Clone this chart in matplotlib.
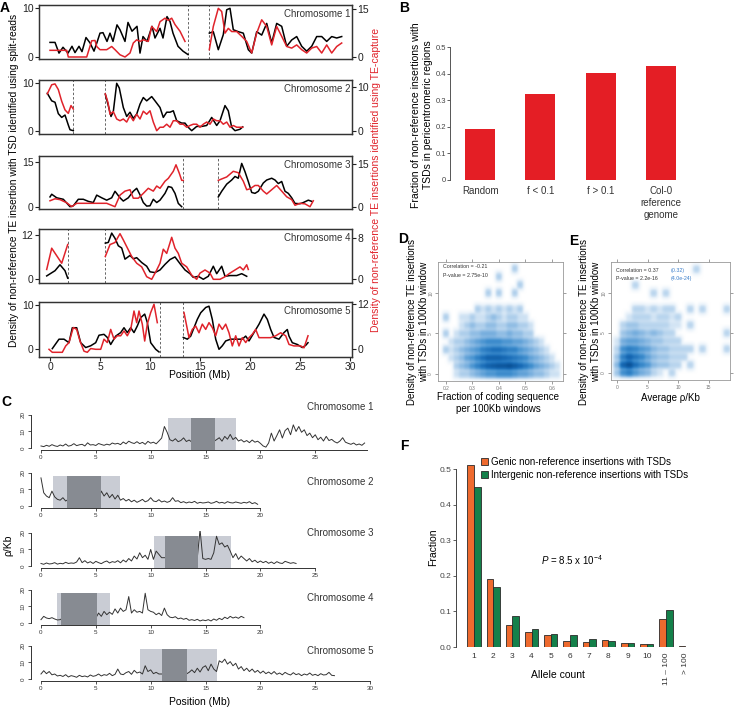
import numpy as np
import matplotlib
matplotlib.use('Agg')
import matplotlib.pyplot as plt
from matplotlib.patches import Rectangle
from matplotlib.colors import LinearSegmentedColormap

plt.rcParams['font.family'] = ['Liberation Sans', 'DejaVu Sans']
plt.rcParams['mathtext.fontset'] = 'custom'
plt.rcParams['mathtext.rm'] = 'Liberation Sans'
plt.rcParams['mathtext.it'] = 'Liberation Sans:italic'

nan = np.nan
RED = '#E0232B'

# ---------------- Panel A data (position Mb, density) ----------------
A1_black_pos = [0.0,0.5,0.9,1.3,1.8,2.2,2.5,2.9,3.2,3.6,4.0,4.4,4.7,5.0,5.3,5.7,6.0,6.3,6.7,7.0,
                7.5,7.8,8.2,8.7,9.0,9.3,9.7,10.2,10.5,11.0,11.3,11.7,12.0,12.3,12.8,13.3,13.8,14.8,
                15.93,16.33,16.83,17.33,17.67,18.0,18.33,18.83,19.33,19.83,20.17,20.67,21.17,21.67,22.17,
                22.67,23.17,23.67,24.17,24.67,25.17,25.67,26.17,26.67,27.17,27.67,28.17,28.67,29.17]
A1_black_val = [3.0,3.0,0.8,2.0,0.8,2.2,0.9,2.2,1.1,4.0,2.9,1.2,3.0,4.9,5.0,3.2,4.9,3.2,6.6,5.6,
                3.2,7.1,5.3,6.3,0.8,4.2,3.2,6.3,3.9,5.9,3.9,8.3,7.3,4.9,2.2,1.2,0.5,nan,
                4.9,5.2,1.5,4.6,9.7,10.0,5.6,5.2,4.9,1.5,0.8,5.2,4.5,6.9,2.9,
                6.9,6.3,2.2,3.5,4.2,2.2,1.2,2.2,4.2,4.2,3.2,4.2,3.9,4.2]
A1_red_pos = [0.0,1.67,1.83,3.67,4.17,4.5,4.67,5.0,5.67,6.17,6.5,7.0,7.5,8.0,8.33,8.67,9.0,9.33,9.83,10.17,
              10.67,11.0,11.5,11.83,12.17,12.5,13.0,13.5,14.7,
              15.93,16.33,16.83,17.17,17.5,17.83,18.17,18.67,19.17,19.67,20.17,20.67,21.17,21.67,22.17,
              22.67,23.17,23.67,24.17,24.67,25.17,25.67,26.17,26.67,27.17,27.67,28.17,28.67,29.17]
A1_red_val = [2.1,2.1,0.0,0.0,5.1,5.2,3.3,2.3,2.3,3.3,2.3,0.7,0.0,1.25,4.4,5.4,4.9,5.4,4.9,9.6,
              8.0,11.1,12.2,11.5,12.2,10.2,8.1,4.9,nan,
              2.3,9.6,15.3,14.3,7.5,9.0,8.0,8.0,6.5,4.9,1.25,7.5,11.7,9.6,3.8,
              9.6,6.5,3.3,2.8,3.8,2.3,1.25,2.8,3.3,1.25,3.8,1.25,3.3,4.4]

A2_black_pos = [-0.27,0.17,0.5,0.83,1.17,1.5,1.83,2.0,2.33,4.0,
                5.53,5.83,6.1,6.33,6.67,6.93,7.33,7.67,8.0,8.33,8.67,9.0,9.33,9.67,10.17,10.5,11.0,11.33,
                11.67,12.0,12.33,12.67,13.17,13.5,13.83,14.17,14.67,15.17,15.67,16.17,16.67,17.0,17.5,
                17.83,18.17,18.5,19.0,19.27]
A2_black_val = [7.9,6.3,6.0,3.6,2.8,3.3,1.2,0.2,0.0,nan,
                7.7,5.3,3.0,4.0,10.0,9.0,4.9,3.0,3.9,2.6,3.5,5.6,7.0,6.3,7.2,6.3,4.9,2.8,
                3.9,3.9,4.2,2.1,1.6,1.6,0.7,0.0,0.9,0.9,1.1,2.8,1.1,2.1,5.3,
                4.2,0.7,0.0,0.3,0.8]
A2_red_pos = [-0.27,0.17,0.5,0.83,1.17,1.5,1.83,2.1,2.33,4.0,
              5.53,5.8,6.0,6.33,6.67,7.0,7.33,7.67,8.0,8.33,8.67,9.0,9.33,9.67,10.0,10.33,10.67,11.0,
              11.33,11.67,12.0,12.33,12.67,13.0,13.33,13.67,14.0,14.33,14.67,15.0,15.33,15.67,16.0,
              16.33,16.67,17.0,17.33,17.67,18.0,18.33,18.67,19.0,19.27]
A2_red_val = [8.5,10.6,10.8,9.5,6.8,4.8,4.0,5.8,5.0,nan,
              8.5,6.5,3.8,4.4,2.7,2.3,2.7,2.0,3.5,2.3,3.8,2.7,4.5,3.8,4.6,2.0,0.0,0.8,
              0.8,1.5,0.8,2.3,2.3,1.5,1.5,0.8,1.2,1.5,1.5,0.8,1.5,2.0,1.5,
              2.7,2.3,2.3,1.5,2.0,0.8,1.2,0.8,0.8,0.8]

A3_black_pos = [0.0,0.17,0.67,1.33,2.0,2.33,2.83,3.33,3.83,4.33,4.67,5.17,5.67,6.17,6.5,7.0,7.33,7.83,
                8.33,8.67,9.0,9.33,9.67,10.0,10.33,10.67,11.0,11.5,11.83,12.17,12.5,12.83,13.17,15.0,
                16.83,17.17,17.67,18.17,18.5,18.83,19.17,19.5,19.83,20.17,20.5,20.83,21.33,21.67,22.17,
                22.5,22.83,23.17,23.5,23.83,24.17,24.5,25.0,25.33,25.83,26.17]
A3_black_val = [3.3,4.2,3.0,2.5,0.0,0.3,2.5,2.5,1.8,1.4,3.9,3.0,2.2,3.0,5.2,3.0,1.9,3.0,
                5.2,6.2,4.0,1.4,0.2,0.3,2.5,1.4,2.2,4.5,6.8,6.5,4.5,1.1,0.0,nan,
                3.3,5.2,7.6,9.0,10.2,9.6,14.6,11.8,8.5,4.8,4.5,5.2,8.0,9.0,9.6,
                9.0,7.8,8.5,5.2,4.5,3.0,1.1,1.0,1.4,2.2,1.8]
A3_red_pos = [0.0,0.5,1.0,1.67,2.17,2.67,3.67,4.67,5.67,6.5,7.0,7.5,8.0,8.33,8.83,9.33,9.83,10.33,
              10.67,11.0,11.5,11.83,12.33,12.6,12.93,13.17,13.33,15.0,
              16.83,17.17,17.67,18.33,18.83,19.33,19.67,20.0,20.5,20.83,21.33,21.67,22.17,22.67,23.17,
              23.67,24.17,24.5,25.0,25.5,26.0,26.33]
A3_red_val = [2.1,2.8,2.5,1.4,0.0,1.2,1.2,1.2,1.2,0.0,4.1,5.5,6.0,3.0,3.0,4.7,6.5,5.5,
              7.3,6.5,9.0,10.0,12.5,14.8,11.8,9.3,9.3,nan,
              9.3,9.8,10.5,12.5,12.0,9.0,6.0,6.3,7.5,7.5,5.5,4.5,6.0,7.5,5.5,
              3.5,2.5,0.5,1.2,1.0,0.0,2.1]

A4_black_pos = [-0.33,0.5,1.0,1.5,1.77,3.5,
                5.53,5.83,6.17,6.5,6.83,7.17,7.5,8.0,8.33,8.67,9.17,9.67,10.0,10.5,11.0,11.5,12.0,12.5,
                13.0,13.5,14.0,14.33,14.83,15.33,15.83,16.33,16.67,17.17,17.5,18.0,18.67,19.17,19.67]
A4_black_val = [0.9,2.3,3.9,2.3,0.3,nan,
                9.7,9.9,12.4,11.0,9.0,8.4,5.4,6.4,5.5,5.8,4.5,3.5,2.0,1.8,2.5,4.0,5.3,6.0,
                4.2,2.5,1.5,0.5,0.8,0.0,0.8,3.5,1.5,3.5,0.8,1.0,1.0,1.5,0.8]
A4_red_pos = [-0.33,0.17,1.17,1.77,3.5,
              5.53,6.0,6.5,7.0,7.33,7.67,8.17,8.67,9.17,9.67,10.17,10.67,11.0,11.33,11.67,12.17,12.5,
              12.83,13.17,13.67,14.17,14.67,15.0,15.5,16.0,16.33,17.0,17.5,18.0,18.5,19.0,19.33,19.67,19.83]
A4_red_val = [1.9,6.0,3.1,6.7,nan,
              4.4,6.7,7.1,8.8,7.6,6.3,4.4,3.1,2.4,0.5,0.0,1.8,3.1,5.8,5.0,8.1,6.0,
              5.0,3.1,2.4,0.8,0.0,1.2,1.8,1.2,0.0,0.0,0.5,1.2,1.8,2.4,1.8,2.8,1.9]

A5_black_pos = [0.23,0.9,1.4,1.9,2.23,2.67,3.07,3.57,4.07,4.57,4.9,5.4,5.73,6.07,6.57,7.07,7.4,7.73,
                8.07,8.4,8.73,9.07,9.47,9.73,10.07,10.57,10.9,12.0,
                13.33,13.73,14.07,14.4,14.73,15.07,15.57,15.9,16.23,16.57,16.9,17.23,17.57,18.07,18.73,
                19.23,19.57,19.9,20.4,20.9,21.4,21.73,22.07,22.4,22.9,23.4,23.73,23.9,24.23,24.73,25.23,
                25.57,25.8]
A5_black_val = [0.15,2.3,2.3,1.5,4.9,4.9,1.5,0.4,0.8,1.5,3.2,3.4,2.7,1.1,3.0,3.8,4.9,3.8,
                4.9,3.8,5.3,7.2,8.0,6.1,1.5,0.0,-0.6,nan,
                2.7,2.3,3.0,4.9,6.8,8.3,9.5,9.8,6.8,2.3,0.0,0.8,1.9,2.3,2.3,
                2.3,3.0,1.9,3.8,5.7,8.0,6.8,4.5,2.7,2.3,3.8,4.5,3.0,1.5,1.1,0.4,
                0.9,1.5]
A5_red_pos = [-0.1,0.23,0.57,1.23,1.57,1.9,2.33,2.67,3.0,3.4,3.73,4.07,4.57,5.07,5.4,5.73,6.07,6.4,
              6.73,7.07,7.4,7.73,8.07,8.4,8.67,8.9,9.23,9.47,9.73,10.07,10.4,10.73,12.0,
              13.4,13.67,13.9,14.23,14.57,14.9,15.23,15.57,15.9,16.23,16.57,16.9,17.23,17.57,17.9,
              18.23,18.57,18.9,19.23,19.57,19.9,20.23,20.57,20.9,21.4,22.07,22.57,23.07,23.57,23.9,
              24.4,25.07,25.4,25.8]
A5_red_val = [0.0,-0.8,-0.8,-0.8,0.9,1.8,5.8,5.3,2.2,-0.5,-0.8,0.2,0.0,0.0,2.7,1.8,5.3,2.7,
              3.6,3.6,4.9,3.6,5.3,10.2,7.1,10.2,6.7,2.2,6.7,9.8,12.0,7.1,nan,
              9.8,6.2,3.1,5.3,6.2,4.4,6.7,5.3,7.1,5.8,3.6,6.7,5.3,6.7,4.4,
              0.9,3.6,0.9,3.1,1.8,3.1,4.0,5.3,3.1,3.1,3.1,3.6,4.4,3.6,1.3,
              0.9,0.9,0.4,3.6]

A_centromere = [(13.77, 15.93), (2.27, 5.53), (13.33, 16.83), (1.77, 5.53), (11.0, 13.33)]
A_left_top = [10, 10, 15, 12, 10]
A_right_top = [15, 10, 15, 8, 12]
A_titles = ['Chromosome 1', 'Chromosome 2', 'Chromosome 3', 'Chromosome 4', 'Chromosome 5']

# ---------------- Panel C data (rho/Kb every 0.25 Mb) ----------------
C_step = 0.25
C1_rho = [1.2,0.8,1.6,1.0,2.0,1.3,0.9,1.8,1.2,2.4,1.1,1.5,
          2.6,1.4,1.9,2.2,1.2,3.1,1.8,2.0,1.5,2.7,2.1,1.6,
          2.3,1.8,3.0,2.4,2.8,2.0,3.6,2.5,4.1,3.2,2.7,3.8,
          2.6,3.4,2.2,4.0,2.9,3.5,2.5,4.2,6.0,13.0,9.5,5.0,
          4.2,5.6,3.8,4.5,6.1,3.9,4.8,3.6,4.0,4.0,4.0,4.0,
          4.0,4.0,4.0,4.0,5.0,6.2,4.1,7.0,5.3,8.2,5.1,6.4,
          4.2,5.0,3.6,4.5,3.2,4.8,3.5,4.1,2.8,1.2,0.5,3.0,
          9.0,4.2,7.5,11.0,6.0,10.5,12.0,8.0,14.0,10.0,13.0,9.5,
          11.0,7.5,9.0,6.2,8.0,5.0,6.5,4.2,7.0,4.5,5.2,3.8,
          3.0,4.2,6.2,3.5,2.8,2.2,3.0,1.8,2.4,1.6,3.0]
C2_rho = [17.0,8.0,6.0,5.0,9.0,5.5,4.0,3.5,5.0,3.0,4.0,4.0,
          4,4,4,4,4,4,4,4,4,4,9.0,6.0,
          8.0,5.0,7.0,4.2,6.5,3.5,4.5,3.0,4.0,2.5,3.5,2.2,
          3.0,4.0,2.5,3.2,5.0,3.0,2.6,3.8,2.4,3.0,2.2,2.8,
          5.0,2.8,3.2,2.0,2.6,1.8,2.4,2.0,2.8,1.6,2.2,1.8,
          2.0,2.4,1.6,2.0,2.8,1.8,2.2,1.6,2.6,2.0,1.8,2.4,
          2.0,1.6,2.2,1.8,2.6,1.4,2.0,1.0]
C3_rho = [1.5,1.0,1.8,1.2,1.4,2.0,1.1,1.6,1.3,2.2,1.5,1.8,
          1.6,2.4,5.0,2.0,3.2,1.8,2.6,1.5,2.8,2.0,1.4,2.4,
          3.0,1.8,2.6,2.2,3.2,1.9,3.6,2.4,4.5,3.0,6.0,4.2,
          8.0,5.0,6.5,4.0,10.0,4.0,9.0,7.0,5.0,5.0,5.0,5.0,
          5,5,5,5,5,5,5,5,5,5.0,22.0,4.5,
          4.0,4.5,4.0,8.0,18.0,13.0,14.0,11.5,12.5,9.0,5.0,7.5,
          4.0,6.0,4.5,3.0,4.5,2.5,3.5,2.0,3.0,2.0,2.8,1.6,
          2.4,1.4,2.6,1.8,1.5,2.8,2.2,1.6,2.0,1.5]
C4_rho = [2.0,4.0,3.0,2.6,3.2,2.4,1.8,2.0,3,3,3,3,
          3,3,3,3,3,3,3,3,3.0,6.0,4.0,7.0,
          5.0,6.5,5.2,8.5,6.0,9.0,7.0,8.0,16.0,6.0,8.0,6.5,
          7.0,6.0,18.0,8.0,7.0,6.5,5.0,6.0,4.5,9.0,5.0,3.5,
          3.2,3.8,2.5,3.0,2.2,2.8,1.6,2.0,1.5,2.2,1.2,1.8,
          1.4,2.0,1.2,2.4,1.6,2.8,2.0,3.5,2.6,4.0,3.0,3.6,
          2.8,4.0,3.2]
C5_rho = [3.0,5.0,3.2,4.5,2.5,3.0,1.8,2.2,1.5,2.6,1.2,2.0,
          1.6,1.0,2.2,1.4,1.8,1.2,2.4,1.6,2.0,3.0,1.8,2.6,
          2.2,3.4,2.0,2.8,6.0,3.0,2.6,3.8,4.5,2.8,5.2,3.6,
          4.2,3.0,8.0,4.5,5.5,3.2,4.0,3.0,3,3,3,3,
          3,3,3,3,3,3,4.0,5.5,3.8,6.5,4.2,7.0,
          8.0,5.0,9.0,6.0,4.5,11.0,10.0,12.0,9.0,10.5,8.0,9.5,
          6.0,7.5,5.0,6.5,4.5,6.0,4.0,5.2,3.5,4.8,3.2,4.2,
          3.0,4.5,2.8,3.6,2.5,4.0,3.0,2.4,3.8,2.6,3.2,2.0,
          3.0,2.4,3.6,2.2,2.8,2.0,3.2,2.4,2.6,4.0,2.2,2.0]
C_pericentromere = [(11.6, 17.8), (1.1, 7.2), (10.3, 17.3), (1.5, 6.3), (9.0, 16.0)]
C_centromere = [(13.7, 15.9), (2.4, 5.5), (11.3, 14.3), (1.8, 5.1), (11.0, 13.3)]
C_axis_end = [29.7, 20, 25, 20, 30]
C_tick_max = [25, 20, 25, 20, 30]

# ---------------- Panel B data ----------------
B_categories = ['Random', 'f < 0.1', 'f > 0.1', 'Col-0\nreference\ngenome']
B_fraction = [0.19, 0.325, 0.402, 0.43]

# ---------------- Panel D / E data (window counts) ----------------
D_x_centers = [0.20,0.22,0.24,0.26,0.28,0.30,0.32,0.34,0.36,0.38,0.40,0.42,0.44,0.46,0.48,0.50,0.52,0.54,0.56,0.58,0.60,0.62]
D_y_levels = list(range(14))
D_counts = [
    [0,0,1,2,2,3,4,5,6,6,7,7,7,6,5,5,4,3,3,2,1,1],
    [0,0,2,3,4,6,8,10,12,13,14,14,15,13,11,9,7,5,4,3,2,1],
    [0,1,2,3,5,6,8,10,12,12,12,11,10,9,8,7,5,4,3,2,1,0],
    [2,1,2,3,4,5,6,8,9,10,10,9,8,8,6,5,4,3,2,1,0,0],
    [0,1,2,2,3,4,5,6,7,7,7,6,6,5,5,4,3,2,1,0,0,0],
    [2,0,1,2,2,3,3,4,4,4,3,3,4,3,3,2,2,0,0,0,0,0],
    [0,0,0,1,2,3,2,2,3,3,2,2,3,3,2,2,1,0,0,0,0,0],
    [2,0,0,1,1,2,1,1,2,3,2,1,2,2,1,1,0,0,0,0,0,0],
    [0,0,0,0,0,0,2,1,2,1,2,1,2,1,2,0,0,0,0,0,0,0],
    [0,0,0,0,0,0,0,0,0,0,0,0,0,0,0,0,0,0,0,0,0,0],
    [0,0,0,0,0,0,0,0,2,0,2,0,0,2,0,0,0,0,0,0,0,0],
    [0,0,0,0,0,0,0,0,0,0,0,0,0,0,2,0,0,0,0,0,0,0],
    [0,0,0,0,0,0,0,0,0,0,2,0,0,0,0,0,0,0,0,0,0,0],
    [0,0,0,0,0,0,0,0,0,0,0,0,0,2,0,0,0,0,0,0,0,0],
]
E_x_centers = list(range(19))
E_y_levels = list(range(14))
E_counts = [
    [3,8,10,7,5,4,2,1,0,2,0,0,0,0,0,0,0,0,0],
    [4,14,18,12,9,7,4,3,3,2,2,0,2,0,0,0,0,0,0],
    [3,10,14,11,9,6,4,3,3,2,2,2,0,0,0,0,0,0,0],
    [2,8,10,9,7,6,4,3,3,2,2,2,2,0,2,0,0,0,2],
    [1,5,6,6,5,4,3,3,2,2,2,0,0,0,0,0,0,0,0],
    [0,3,4,5,4,3,4,3,2,2,0,0,0,0,0,0,0,0,2],
    [0,2,3,3,2,2,2,2,2,1,1,0,2,0,0,0,0,0,0],
    [0,0,1,2,2,2,1,2,2,1,2,0,0,0,0,0,0,0,0],
    [0,0,0,2,2,1,2,1,2,2,0,0,2,0,2,0,0,0,2],
    [0,0,0,0,0,0,0,0,0,0,0,0,0,0,0,0,0,0,0],
    [0,0,0,0,0,0,2,0,2,0,0,0,0,0,0,0,0,0,0],
    [0,0,0,2,0,0,0,0,0,0,0,0,0,0,0,0,0,0,0],
    [0,0,0,0,0,0,0,0,0,0,0,0,0,0,0,0,0,0,0],
    [0,0,0,0,0,0,0,0,0,0,0,0,0,2,0,0,0,0,0],
]

# ---------------- Panel F data ----------------
F_categories = ['1','2','3','4','5','6','7','8','9','10','11 \u2013 100','> 100']
F_genic = [0.51,0.19,0.063,0.042,0.035,0.016,0.014,0.020,0.012,0.008,0.080,0.002]
F_intergenic = [0.45,0.168,0.086,0.050,0.037,0.035,0.022,0.016,0.011,0.009,0.105,0.001]

# ====================================================================
W, H = 740, 709
fig = plt.figure(figsize=(7.4, 7.09), dpi=100)

def rect(l, t, r, b):
    return [l / W, 1 - b / H, (r - l) / W, (b - t) / H]

def fx(x):
    return x / W

def fy(y):
    return 1 - y / H

# ---------------- Panel A ----------------
A_rows = [(5, 59), (80, 134), (156, 209), (229, 283), (302, 357)]
A_left_lim = [(-0.41, 10.68), (-0.7, 10.7), (-0.78, 17.1), (-1.0, 13.5), (-1.75, 10.75)]
A_right_lim = [(-0.63, 16.35), (-0.76, 11.7), (-0.81, 17.9), (-0.71, 9.7), (-2.05, 12.6)]
A_data = [(A1_black_pos, A1_black_val, A1_red_pos, A1_red_val),
          (A2_black_pos, A2_black_val, A2_red_pos, A2_red_val),
          (A3_black_pos, A3_black_val, A3_red_pos, A3_red_val),
          (A4_black_pos, A4_black_val, A4_red_pos, A4_red_val),
          (A5_black_pos, A5_black_val, A5_red_pos, A5_red_val)]
for i in range(5):
    t, b = A_rows[i]
    ax = fig.add_axes(rect(39, t, 352, b))
    bp, bv, rp, rv = A_data[i]
    ax.plot(bp, bv, color='black', lw=1.1, zorder=3)
    for c in A_centromere[i]:
        ax.axvline(c, color='#666666', ls=(0, (2.5, 2)), lw=0.7, zorder=1)
    ax.set_xlim(-1.1, 30.2)
    ax.set_ylim(*A_left_lim[i])
    ax.set_yticks([0, A_left_top[i]])
    ax.tick_params(axis='y', labelsize=7.5, length=3, width=0.8, pad=1, colors='#222222')
    for s in ax.spines.values():
        s.set_linewidth(0.9)
        s.set_color('#333333')
    if i < 4:
        ax.set_xticks([])
    else:
        ax.set_xticks([0, 5, 10, 15, 20, 25, 30])
        ax.tick_params(axis='x', labelsize=7.5, length=3, width=0.8, pad=0.3, colors='#222222')
    axr = ax.twinx()
    axr.plot(rp, rv, color=RED, lw=1.1, zorder=2)
    axr.set_ylim(*A_right_lim[i])
    axr.set_yticks([0, A_right_top[i]])
    axr.tick_params(axis='y', labelsize=7.5, length=3, width=0.8, pad=1, colors='#222222')
    for s in axr.spines.values():
        s.set_linewidth(0.9)
        s.set_color('#333333')
    ax.text(0.995, 0.93, A_titles[i], transform=ax.transAxes, ha='right', va='top',
            fontsize=7, color='#333333', zorder=5)

fig.text(fx(200), fy(375.5), 'Position (Mb)', ha='center', va='center', fontsize=7.5)
fig.text(fx(14), fy(180), 'Density of non-reference TE insertion with TSD identified using split-reads',
         rotation=90, ha='center', va='center', fontsize=7.3)
fig.text(fx(376), fy(180), 'Density of non-reference TE insertions identified using TE-capture',
         rotation=90, ha='center', va='center', fontsize=7.5, color=RED)

# ---------------- Panel C ----------------
C_rows = [(413.3, 449.6), (471.3, 507.6), (531.3, 567.6), (588.3, 624.6), (644.3, 680.6)]
C_title_y = [407, 482, 533, 598, 651]
C_all = [C1_rho, C2_rho, C3_rho, C4_rho, C5_rho]
for i in range(5):
    t, b = C_rows[i]
    ax = fig.add_axes(rect(31.1, t, 372.3, b))
    vals = np.array(C_all[i], dtype=float)
    pos = np.arange(len(vals)) * C_step
    l0, l1 = C_pericentromere[i]
    d0, d1 = C_centromere[i]
    ax.add_patch(Rectangle((l0, -1), l1 - l0, 19.3, facecolor='#C9CCD4', edgecolor='none', zorder=0))
    ax.plot(pos, vals, color='#333333', lw=0.7, zorder=2)
    ax.add_patch(Rectangle((d0, -1), d1 - d0, 19.3, facecolor='#878B92', edgecolor='none', zorder=3))
    ax.set_xlim(-0.9, 30.2)
    ax.set_ylim(-1, 21)
    ax.spines['top'].set_visible(False)
    ax.spines['right'].set_visible(False)
    ax.spines['left'].set_bounds(0, 20)
    ax.spines['bottom'].set_bounds(0, C_axis_end[i])
    for s in ('left', 'bottom'):
        ax.spines[s].set_linewidth(0.7)
        ax.spines[s].set_color('#333333')
    ax.set_yticks([0, 10, 20])
    ax.set_yticklabels(['0', '10', '20'], rotation=90, va='center')
    ax.set_xticks(np.arange(0, C_tick_max[i] + 1, 5))
    ax.tick_params(labelsize=4.5, length=2.5, width=0.6, pad=1.5, colors='#333333')
    fig.text(fx(307), fy(C_title_y[i]), A_titles[i], ha='left', va='center', fontsize=7, color='#333333')

fig.text(fx(200), fy(702), 'Position (Mb)', ha='center', va='center', fontsize=7.5)
fig.text(fx(8), fy(545), '\u03c1/Kb', rotation=90, ha='center', va='center', fontsize=7.5)

# ---------------- Panel B ----------------
axB = fig.add_axes(rect(450, 47, 700, 180))
axB.bar(range(len(B_fraction)), B_fraction, width=0.5, color='#E41E25', edgecolor='none')
axB.set_xlim(-0.5, 3.65)
axB.set_ylim(0, 0.5)
for s in ('top', 'right', 'bottom'):
    axB.spines[s].set_visible(False)
axB.spines['left'].set_linewidth(0.7)
axB.spines['left'].set_color('#555555')
axB.set_yticks([0, 0.1, 0.2, 0.3, 0.4, 0.5])
axB.set_yticklabels(['0', '0.1', '0.2', '0.3', '0.4', '0.5'])
axB.tick_params(axis='y', labelsize=5.5, length=2, width=0.6, pad=1, colors='#444444')
axB.set_xticks(range(len(B_categories)))
axB.set_xticklabels(B_categories, fontsize=7, linespacing=1.3)
axB.tick_params(axis='x', length=0, pad=4, colors='#333333')
fig.text(fx(422), fy(115), 'Fraction of non-reference insertions with\nTSDs in pericentromeric regions',
         rotation=90, ha='center', va='center', fontsize=7.5, multialignment='center', linespacing=1.15)

# ---------------- Panels D and E ----------------
blues = LinearSegmentedColormap.from_list('sblues', ['#FFFFFF', '#E6F0F9', '#B9D5EE', '#7FB3E0',
                                                     '#4290CF', '#1A6DB8', '#0B5399'])

def smooth_density(ax, counts, xc, yc):
    counts = np.asarray(counts, dtype=float)
    pad = 2
    c = np.pad(counts, pad)
    up = 10
    block = np.zeros((up, up))
    block[1:9, :] = 1.0
    fine = np.kron(c, block)
    sigma = 2.4
    r = int(3 * sigma)
    k = np.exp(-0.5 * (np.arange(-r, r + 1) / sigma) ** 2)
    k /= k.sum()
    fine = np.apply_along_axis(lambda v: np.convolve(v, k, mode='same'), 0, fine)
    fine = np.apply_along_axis(lambda v: np.convolve(v, k, mode='same'), 1, fine)
    dx = xc[1] - xc[0]
    dy = yc[1] - yc[0]
    extent = [xc[0] - dx / 2 - pad * dx, xc[-1] + dx / 2 + pad * dx,
              yc[0] - dy / 2 - pad * dy, yc[-1] + dy / 2 + pad * dy]
    img = (fine / fine.max()) ** 0.5
    ax.imshow(img, origin='lower', extent=extent, aspect='auto', cmap=blues, vmin=0, vmax=1,
              interpolation='bilinear', zorder=0)

def style_de(ax):
    for s in ax.spines.values():
        s.set_linewidth(0.6)
        s.set_color('#999999')
    ax.tick_params(which='both', top=True, right=True, labeltop=False, labelright=False,
                   labelsize=3.5, length=2, width=0.5, pad=1.5, colors='#777777')
    for lab in ax.get_yticklabels():
        lab.set_rotation(90)
        lab.set_va('center')

axD = fig.add_axes(rect(438, 262, 563, 381))
smooth_density(axD, D_counts, D_x_centers, D_y_levels)
axD.set_xlim(0.17, 0.642)
axD.set_ylim(-0.86, 13.8)
axD.set_xticks([0.2, 0.3, 0.4, 0.5, 0.6])
axD.set_yticks([0, 5, 10])
style_de(axD)
axD.text(0.04, 0.965, 'Correlation = -0.21', transform=axD.transAxes, fontsize=3.8, ha='left', va='center', color='#333333')
axD.text(0.04, 0.89, 'P-value = 2.75e-10', transform=axD.transAxes, fontsize=3.8, ha='left', va='center', color='#333333')
fig.text(fx(418), fy(322), 'Density of non-reference TE insertions\nwith TSDs in 100Kb window',
         rotation=90, ha='center', va='center', fontsize=7, multialignment='center', linespacing=1.15)
fig.text(fx(498), fy(403), 'Fraction of coding sequence\nper 100Kb windows', ha='center', va='center',
         fontsize=7, multialignment='center', linespacing=1.15)

axE = fig.add_axes(rect(611, 262, 730, 380))
smooth_density(axE, E_counts, E_x_centers, E_y_levels)
axE.set_xlim(-1.0, 18.5)
axE.set_ylim(-0.9, 13.9)
axE.set_xticks([0, 5, 10, 15])
axE.set_yticks([0, 5, 10])
style_de(axE)
axE.text(0.04, 0.93, 'Correlation = 0.37', transform=axE.transAxes, fontsize=3.8, ha='left', va='center', color='#333333')
axE.text(0.04, 0.856, 'P-value = 2.2e-16', transform=axE.transAxes, fontsize=3.8, ha='left', va='center', color='#333333')
axE.text(0.50, 0.93, '(0.32)', transform=axE.transAxes, fontsize=3.8, ha='left', va='center', color='#3A7DC9')
axE.text(0.50, 0.856, '(4.0e-24)', transform=axE.transAxes, fontsize=3.8, ha='left', va='center', color='#3A7DC9')
fig.text(fx(590), fy(322), 'Density of non-reference TE insertions\nwith TSDs in 100Kb window',
         rotation=90, ha='center', va='center', fontsize=7, multialignment='center', linespacing=1.15)
fig.text(fx(670), fy(398), 'Average \u03c1/Kb', ha='center', va='center', fontsize=7)

# ---------------- Panel F ----------------
axF = fig.add_axes(rect(456, 461.9, 700, 647))
xF = np.arange(1, len(F_categories) + 1)
bw = 0.34
h1 = axF.bar(xF - bw / 2, F_genic, width=bw, color='#EE6A2E', edgecolor='#2A2A2A', lw=0.6)
h2 = axF.bar(xF + bw / 2, F_intergenic, width=bw, color='#14804A', edgecolor='#2A2A2A', lw=0.6)
axF.set_xlim(0.0625, 12.77)
axF.set_ylim(0, 0.52)
for s in ('top', 'right', 'bottom'):
    axF.spines[s].set_visible(False)
axF.spines['left'].set_bounds(0, 0.5)
axF.spines['left'].set_linewidth(0.7)
axF.spines['left'].set_color('#444444')
axF.set_yticks([0, 0.1, 0.2, 0.3, 0.4, 0.5])
axF.set_yticklabels(['0.0', '0.1', '0.2', '0.3', '0.4', '0.5'])
axF.tick_params(axis='y', labelsize=6, length=2.5, width=0.6, pad=1, colors='#444444')
axF.set_xticks(xF)
axF.set_xticklabels(F_categories)
axF.tick_params(axis='x', labelsize=6, length=0, pad=4, colors='#333333')
for lab in axF.get_xticklabels()[-2:]:
    lab.set_rotation(90)
    lab.set_va('top')
axF.legend([h1, h2], ['Genic non-reference insertions with TSDs', 'Intergenic non-reference insertions with TSDs'],
           loc='upper left', bbox_to_anchor=(fx(481), fy(457)), bbox_transform=fig.transFigure,
           frameon=False, fontsize=7, handlelength=0.75, handleheight=0.75, handletextpad=0.25,
           labelspacing=0.3, borderpad=0, borderaxespad=0)
fig.text(fx(541), fy(560), r'$\mathit{P}$ = 8.5 x 10$^{-4}$', ha='left', va='center', fontsize=7)
fig.text(fx(433), fy(547), 'Fraction', rotation=90, ha='center', va='center', fontsize=7.5)
fig.text(fx(558), fy(675), 'Allele count', ha='center', va='center', fontsize=7.5)

# ---------------- Panel letters ----------------
for letter, x, y in [('A', 0, 1), ('B', 399, 1), ('C', 1, 395), ('D', 398, 232), ('E', 569, 234), ('F', 400, 439)]:
    fig.text(fx(x), fy(y), letter, ha='left', va='top', fontsize=10, fontweight='bold')

fig.savefig('out.png', dpi=100)
